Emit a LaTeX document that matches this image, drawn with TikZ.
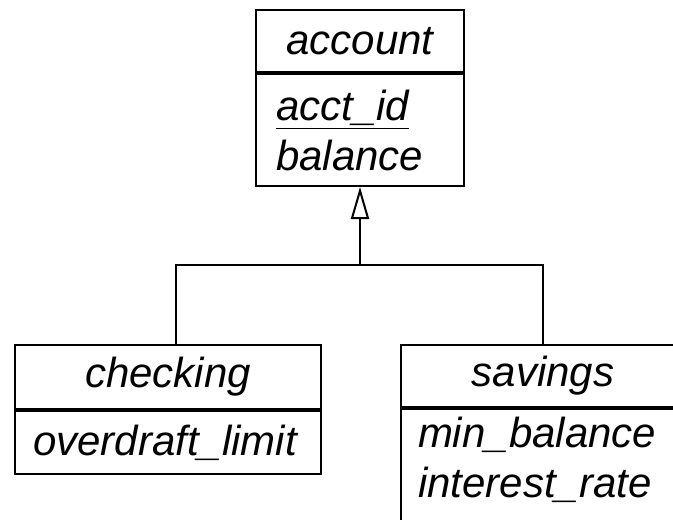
\documentclass[tikz,border=0pt]{standalone}
\usepackage{fontspec}
\setmainfont{Liberation Sans}
\usetikzlibrary{arrows.meta}

\begin{document}
\begin{tikzpicture}[x=0.5pt, y=-0.5pt]

\tikzset{head/.style = {draw, line width=1pt, inner sep=0pt, font=\itshape\fontsize{21}{25}\selectfont}}
\tikzset{attrs/.style = {head, anchor=north, align=left}}
\tikzset{edge/.style = {line width=1pt, -{Triangle[open, length=16pt, width=9pt]}}}
\useasboundingbox (0,0) rectangle (673,519);
% classes
\node[head, minimum width=104pt, minimum height=31pt] (account) at (360,41) {account};
\node[attrs, text width=84pt, inner xsep=10pt, minimum height=56pt] (accountA) at (account.south) {\underline{acct\_id}\\balance};
\node[head, minimum width=153pt, minimum height=32pt] (checking) at (168,377) {checking};
\node[attrs, text width=135pt, inner xsep=9pt, minimum height=31.5pt] (checkingA) at (checking.south) {overdraft\_limit};
\node[head, minimum width=142pt, minimum height=31pt] (savings) at (543,376) {savings};
\node[attrs, text width=125pt, inner xsep=8.5pt, inner ysep=4pt, text depth=50pt] (savingsA) at (savings.south) {min\_balance\\interest\_rate};
%edges
\coordinate (fork) at (360,265);
\coordinate (chkTop) at (176,345);
\draw[line width=1pt] (chkTop) |- (fork) -| (savings.north);
\draw[edge] (fork) -- (accountA.south);

\end{tikzpicture}
\end{document}
